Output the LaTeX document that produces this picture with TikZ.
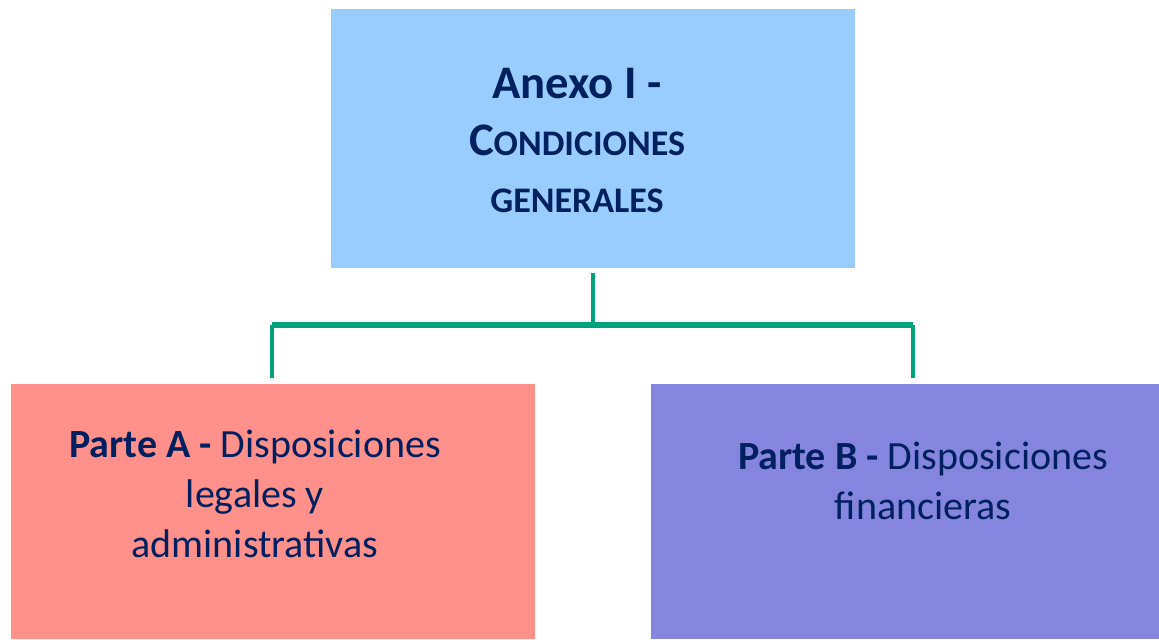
\documentclass[tikz,border=0pt]{standalone}
\usepackage{fontspec}
\setmainfont{Carlito}
\definecolor{anexoblue}{HTML}{99CCFF}
\definecolor{parteared}{HTML}{FF918A}
\definecolor{partebviolet}{HTML}{8585DE}
\definecolor{navytext}{HTML}{002060}
\definecolor{linkgreen}{HTML}{00A27A}
\tikzset{every picture/.style={line width=0.75pt}}
\tikzset{
  panel/.style={draw=none, inner sep=0pt},
  paneltext/.style={inner sep=0pt, align=center, text=navytext},
  bus/.style={draw=linkgreen, line width=4pt},
  drop/.style={draw=linkgreen, line width=2.4pt},
}
\newcommand{\smallcap}[1]{{\fontsize{27}{42.75}\selectfont #1}}

\begin{document}
\begin{tikzpicture}[x=0.75pt,y=0.75pt,yscale=-1,xscale=1]
    \useasboundingbox (0,0) rectangle (1159,639);
    %Shape: Rectangle [anexo]
    \node[panel, fill=anexoblue, minimum width=393pt, minimum height=194.25pt] (anexo) at (593,138.5) {};
    %Shape: Rectangle [parte A]
    \node[panel, fill=parteared, minimum width=393pt, minimum height=191.25pt] (parteA) at (273,511.5) {};
    %Shape: Rectangle [parte B]
    \node[panel, fill=partebviolet, minimum width=381pt, minimum height=191.25pt] (parteB) at (905,511.5) {};
    %Text Nodes
    \node[paneltext, font=\fontsize{35}{42.75}\selectfont\bfseries] (anexotxt) at (577,140)
      {Anexo I -\\C\smallcap{ONDICIONES}\\\smallcap{GENERALES}};
    \node[paneltext, font=\fontsize{30}{37.5}\selectfont] (parteAtxt) at (255,493.5)
      {\textbf{Parte A -} Disposiciones\\legales y\\administrativas};
    \node[paneltext, font=\fontsize{30}{37.5}\selectfont] (parteBtxt) at (923,481)
      {\textbf{Parte B -} Disposiciones\\financieras};
    %Straight Lines
    \coordinate (stemtop) at (593,273);
    \coordinate (busM) at (593,325);
    \coordinate (busL) at (272,325);
    \coordinate (busR) at (913,325);
    \coordinate (dropL) at (272,378);
    \coordinate (dropR) at (913,378);
    \draw[drop] (stemtop) -- (busM);
    \draw[bus] (busL) -- (busR);
    \draw[drop] (busL) -- (dropL);
    \draw[drop] (busR) -- (dropR);
\end{tikzpicture}
\end{document}
